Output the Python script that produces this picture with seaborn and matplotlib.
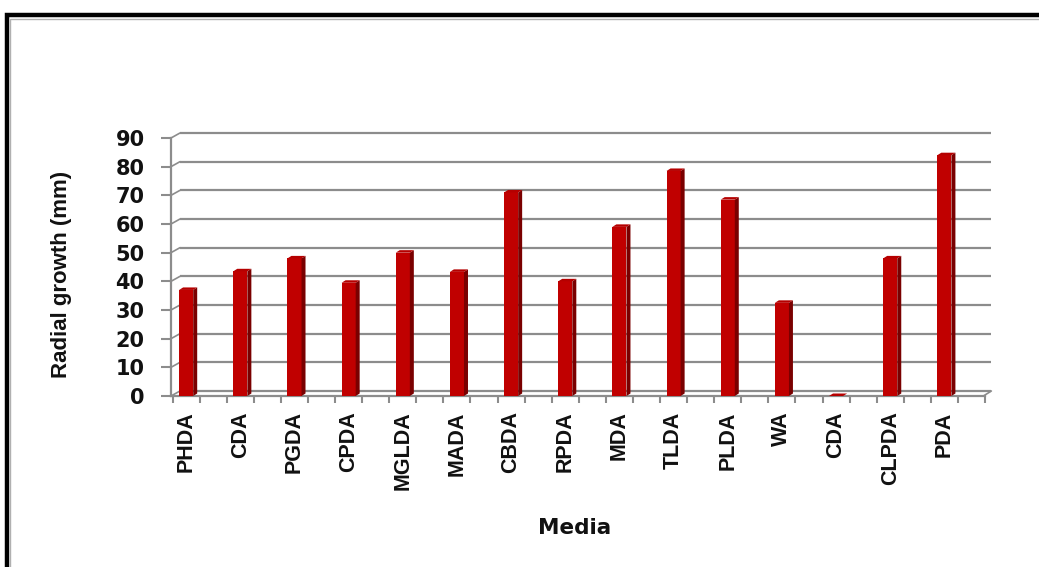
import numpy as np
import matplotlib
matplotlib.use("Agg")
import matplotlib.pyplot as plt
from matplotlib.patches import Polygon, Rectangle
import seaborn as sns

# ---- data ----
media = ["PHDA", "CDA", "PGDA", "CPDA", "MGLDA", "MADA", "CBDA", "RPDA",
         "MDA", "TLDA", "PLDA", "WA", "CDA", "CLPDA", "PDA"]
growth = [37, 43.5, 48, 39.5, 50, 43.3, 71, 40, 59, 78.5, 68.5, 32.5, 0, 48, 84]
yticks = [0, 10, 20, 30, 40, 50, 60, 70, 80, 90]

sns.set_theme(style="white")
plt.rcParams["font.family"] = ["DejaVu Sans"]

W, H = 1039, 567
fig = plt.figure(figsize=(W / 100, H / 100), dpi=100)
ax_l, ax_r, ax_b, ax_t = 171, 985, 396, 138
ax = fig.add_axes([ax_l / W, 1 - ax_b / H, (ax_r - ax_l) / W, (ax_b - ax_t) / H])

pos = np.arange(len(media))
x0, x1 = -0.28, len(media) - 0.28
ax.set_xlim(x0, x1)
ax.set_ylim(0, 90)

grid_col = "#8c8c8c"
# back wall offset (3D look)
pxx = (ax_r - ax_l) / (x1 - x0)
pxy = (ax_b - ax_t) / 90.0
gdx, gdy = 9 / pxx, 5 / pxy
for v in yticks:
    ax.plot([x0 + gdx, x1 + 8 / pxx], [v + gdy, v + gdy], color=grid_col, lw=1.6,
            zorder=1, clip_on=False, solid_capstyle="butt")
    ax.plot([x0, x0 + gdx], [v, v + gdy], color=grid_col, lw=1.2,
            zorder=1, clip_on=False)
ax.plot([x1, x1 + 8 / pxx], [0, gdy], color=grid_col, lw=1.2, zorder=1, clip_on=False)

sns.barplot(x=pos, y=growth, native_scale=True, width=0.26, color="#C00000",
            saturation=1, ax=ax, zorder=3, edgecolor="none")

sdx, sdy = 4 / pxx, 2.5 / pxy
for p in list(ax.patches):
    bx, bw, bh = p.get_x(), p.get_width(), p.get_height()
    side = Polygon([(bx + bw, 0), (bx + bw + sdx, sdy), (bx + bw + sdx, bh + sdy),
                    (bx + bw, bh)], closed=True, facecolor="#7a0000",
                   edgecolor="none", zorder=3)
    top = Polygon([(bx, bh), (bx + sdx, bh + sdy), (bx + bw + sdx, bh + sdy),
                   (bx + bw, bh)], closed=True, facecolor="#b50000",
                  edgecolor="none", zorder=4)
    ax.add_patch(side)
    ax.add_patch(top)

# spines
for s in ["top", "right"]:
    ax.spines[s].set_visible(False)
for s in ["left", "bottom"]:
    ax.spines[s].set_color(grid_col)
    ax.spines[s].set_linewidth(1.6)

ax.set_yticks(yticks)
ax.set_yticklabels([str(v) for v in yticks], fontsize=15, fontweight="bold",
                   color="#111111")
ax.tick_params(axis="y", which="major", direction="out", length=7, width=1.5,
               color=grid_col, pad=12, left=True)

ax.set_xticks(pos)
ax.set_xticklabels(media, rotation=90, fontsize=15.5, fontweight="bold",
                   family=["Liberation Sans", "DejaVu Sans"], color="#111111")
ax.set_xticks(np.arange(-0.25, len(media), 0.5), minor=True)
ax.tick_params(axis="x", which="major", length=0, pad=11, bottom=True)
ax.tick_params(axis="x", which="minor", direction="out", length=5, width=1.5,
               color=grid_col, bottom=True)
ax.grid(False)

ax.set_ylabel("Radial growth (mm)", fontsize=16, fontweight="bold",
              family=["Liberation Sans", "DejaVu Sans"], color="#111111")
ax.yaxis.set_label_coords((72 - ax_l) / (ax_r - ax_l), (ax_b - 274) / (ax_b - ax_t))
ax.set_xlabel("Media", fontsize=15.5, fontweight="bold", color="#111111")
ax.xaxis.set_label_coords((575 - ax_l) / (ax_r - ax_l), (ax_b - 518) / (ax_b - ax_t))

# outer frame (cut off at right and bottom)
fig.add_artist(Rectangle((7 / W, -0.2), 1.2, 1.2 - 15 / H, transform=fig.transFigure,
                         facecolor="none", edgecolor="black", lw=3.2, clip_on=False))
fig.add_artist(Rectangle((10 / W, -0.2), 1.2, 1.2 - 18.5 / H, transform=fig.transFigure,
                         facecolor="none", edgecolor="#b0b0b0", lw=1.0, clip_on=False))

fig.savefig("out.png", dpi=100, facecolor="white")
